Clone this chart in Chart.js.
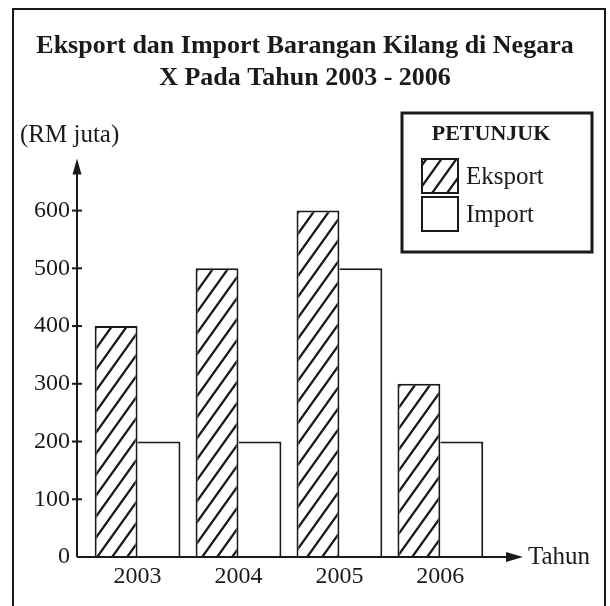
<!DOCTYPE html>
<html>
<head>
<meta charset="utf-8">
<script src="https://cdn.jsdelivr.net/npm/chart.js@4.4.0/dist/chart.umd.min.js"></script>
<style>
  html, body { margin: 0; padding: 0; background: #fff; }
  #wrap { width: 610px; height: 606px; }
</style>
</head>
<body>
<div id="wrap"><canvas id="chart" width="610" height="606"></canvas></div>
<script>
// --- data ---
const years = ['2003', '2004', '2005', '2006'];
const eksport = [400, 500, 600, 300];
const importVals = [200, 200, 500, 200];
const yTicks = [0, 100, 200, 300, 400, 500, 600];

const serif = '"Liberation Serif", "DejaVu Serif", serif';
const ink = '#1a1a1a';

// diagonal hatch for Eksport bars (steep "/" lines)
function makeHatch() {
    const w = 15, h = 21;
    const c = document.createElement('canvas');
    c.width = w; c.height = h;
    const g = c.getContext('2d');
    g.fillStyle = '#fff';
    g.fillRect(0, 0, w, h);
    g.strokeStyle = ink;
    g.lineWidth = 2.3;
    g.beginPath();
    [-w, 0, w].forEach(dx => {
        g.moveTo(dx - w, 2 * h);
        g.lineTo(dx + 2 * w, -h);
    });
    g.stroke();
    return g.createPattern(c, 'repeat');
}
const hatch = makeHatch();

// axes, arrows, frame and the boxed legend
const decor = {
    id: 'decor',
    afterDraw(chart) {
        const ctx = chart.ctx;
        const a = chart.chartArea;
        const ys = chart.scales.y;
        ctx.save();
        ctx.strokeStyle = ink;
        ctx.fillStyle = ink;

        // outer frame
        ctx.lineWidth = 2;
        ctx.strokeRect(13, 9, 592, 640);

        // y axis + arrow
        ctx.beginPath();
        ctx.moveTo(a.left, a.bottom);
        ctx.lineTo(a.left, a.top + 8);
        ctx.stroke();
        ctx.beginPath();
        ctx.moveTo(a.left, a.top - 6);
        ctx.lineTo(a.left - 4.5, a.top + 10);
        ctx.lineTo(a.left + 4.5, a.top + 10);
        ctx.closePath();
        ctx.fill();

        // y ticks crossing the axis
        yTicks.forEach(v => {
            if (v === 0) return;
            const py = ys.getPixelForValue(v);
            ctx.beginPath();
            ctx.moveTo(a.left - 5, py);
            ctx.lineTo(a.left + 5, py);
            ctx.stroke();
        });

        // x axis + arrow
        ctx.beginPath();
        ctx.moveTo(a.left, a.bottom);
        ctx.lineTo(a.right, a.bottom);
        ctx.stroke();
        ctx.beginPath();
        ctx.moveTo(a.right + 12, a.bottom);
        ctx.lineTo(a.right - 5, a.bottom - 5);
        ctx.lineTo(a.right - 5, a.bottom + 5);
        ctx.closePath();
        ctx.fill();

        // axis titles
        ctx.font = '25px ' + serif;
        ctx.textBaseline = 'middle';
        ctx.textAlign = 'left';
        ctx.fillText('(RM juta)', 20, 135);
        ctx.fillText('Tahun', a.right + 17, a.bottom);

        // legend box
        ctx.lineWidth = 3;
        ctx.strokeRect(402, 113, 190, 139);
        ctx.font = 'bold 22px ' + serif;
        ctx.textAlign = 'center';
        ctx.fillText('PETUNJUK', 491, 134);
        ctx.font = '25px ' + serif;
        ctx.textAlign = 'left';
        ctx.lineWidth = 2;
        chart.data.datasets.forEach((ds, i) => {
            const top = 159 + i * 38;
            ctx.fillStyle = ds.backgroundColor;
            ctx.fillRect(422, top, 36, 34);
            ctx.strokeRect(422, top, 36, 34);
            ctx.fillStyle = ink;
            ctx.fillText(ds.label, 466, top + 18);
        });
        ctx.restore();
    }
};

new Chart(document.getElementById('chart'), {
    type: 'bar',
    data: {
        datasets: [{
            label: 'Eksport',
            data: eksport.map((v, i) => ({ x: i, y: v })),
            backgroundColor: hatch,
            borderColor: ink,
            borderWidth: 2
        }, {
            label: 'Import',
            data: importVals.map((v, i) => ({ x: i, y: v })),
            backgroundColor: '#ffffff',
            borderColor: ink,
            borderWidth: { top: 2, right: 2, left: 0, bottom: 0 }
        }]
    },
    plugins: [decor],
    options: {
        responsive: false,
        animation: false,
        categoryPercentage: 0.85,
        barPercentage: 1.0,
        layout: { padding: 0 },
        plugins: {
            legend: { display: false },
            tooltip: { enabled: false },
            title: {
                display: true,
                text: ['Eksport dan Import Barangan Kilang di Negara', 'X Pada Tahun 2003 - 2006'],
                color: ink,
                font: { family: serif, size: 26, weight: 'bold', lineHeight: 1.2 },
                padding: { top: 31, bottom: 71 }
            }
        },
        scales: {
            x: {
                type: 'linear',
                offset: false,
                min: -0.6,
                max: 3.7,
                grid: { display: false, drawTicks: false },
                border: { display: false },
                afterBuildTicks: s => { s.ticks = years.map((y, i) => ({ value: i })); },
                afterFit: s => { s.height = 49; },
                ticks: {
                    color: ink,
                    padding: 5,
                    font: { family: serif, size: 24 },
                    callback: v => years[v]
                }
            },
            y: {
                min: 0,
                max: 680,
                grid: { display: false, drawTicks: false },
                border: { display: false },
                afterBuildTicks: s => { s.ticks = yTicks.map(v => ({ value: v })); },
                afterFit: s => { s.width = 77; },
                ticks: {
                    color: ink,
                    padding: 7,
                    font: { family: serif, size: 24 }
                }
            },
            // empty right-hand axis, only reserves room for the legend/arrow
            yRight: {
                position: 'right',
                min: 0,
                max: 680,
                grid: { display: false, drawTicks: false },
                border: { display: false },
                ticks: { display: false },
                afterFit: s => { s.width = 99; }
            }
        }
    }
});
</script>
</body>
</html>
